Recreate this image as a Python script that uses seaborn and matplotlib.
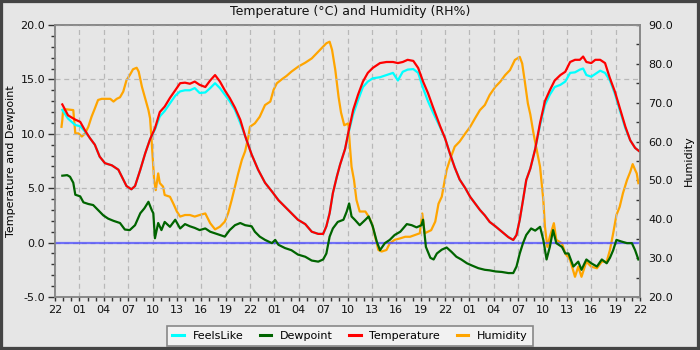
import matplotlib
matplotlib.use("Agg")
import matplotlib.pyplot as plt
import matplotlib.patches as mpatches
from matplotlib.ticker import MultipleLocator, FixedLocator, FixedFormatter
import seaborn as sns
import pandas as pd

# ---------------- data (hours since 22:00 of first day) ----------------
temp_hours = [0.9, 1.6, 2.5, 3.1, 3.7, 4.3, 4.9, 5.5, 6.15, 7.0, 7.8, 8.2, 8.8, 9.4, 9.85,
              10.5, 11.1, 11.7, 12.3, 12.9, 13.5, 14.15, 14.8, 15.4, 16.0, 16.6, 17.2, 17.8,
              18.5, 19.1, 19.7, 20.3, 20.9, 21.5, 22.15, 22.8, 23.4, 24.2, 25.0, 25.85, 26.7,
              27.5, 28.3, 29.1, 29.9, 30.8, 31.6, 32.4, 33.0, 33.4, 33.8, 34.2, 34.7, 35.1,
              35.7, 36.1, 36.7, 37.3, 37.9, 38.5, 39.1, 40.0, 40.8, 41.6, 42.2, 42.8, 43.4,
              44.1, 44.7, 45.3, 45.9, 46.5, 47.4, 48.0, 48.6, 49.2, 49.8, 50.5, 51.1, 51.7,
              52.3, 52.9, 53.5, 54.2, 55.0, 55.8, 56.4, 56.8, 57.2, 57.6, 58.0, 58.5, 59.1,
              59.7, 60.3, 60.9, 61.5, 62.2, 62.8, 63.4, 64.0, 64.6, 65.0, 65.4, 66.0, 66.5,
              67.1, 67.7, 68.3, 68.9, 69.5, 70.2, 70.8, 71.4, 71.9]
temperature = [12.7, 11.7, 11.3, 11.1, 10.3, 9.6, 9.0, 7.9, 7.3, 7.1, 6.7, 6.1, 5.2, 4.9, 5.2,
               6.7, 8.2, 9.5, 10.5, 12.0, 12.5, 13.3, 14.0, 14.65, 14.7, 14.6, 14.8, 14.5,
               14.3, 14.9, 15.4, 14.8, 14.0, 13.3, 12.4, 11.3, 9.8, 8.1, 6.7, 5.5, 4.7,
               3.9, 3.3, 2.7, 2.1, 1.7, 1.0, 0.8, 0.8, 1.5, 2.7, 4.55, 6.1, 7.2,
               8.6, 10.1, 12.2, 13.6, 14.8, 15.6, 16.05, 16.5, 16.6, 16.6, 16.5, 16.6, 16.8,
               16.7, 16.05, 14.8, 13.75, 12.5, 10.7, 9.6, 8.2, 6.9, 5.8, 5.0, 4.2, 3.6,
               3.0, 2.5, 1.9, 1.5, 1.0, 0.5, 0.24, 0.7, 2.1, 3.9, 5.75, 6.8, 8.6,
               11.0, 13.0, 14.0, 14.9, 15.4, 15.7, 16.6, 16.8, 16.8, 17.1, 16.6, 16.5, 16.8,
               16.8, 16.5, 15.1, 13.9, 12.4, 10.65, 9.4, 8.7, 8.4]
feels_like = [12.2, 11.4, 10.8, 10.7, 10.2, 9.6, 9.0, 7.9, 7.3, 7.1, 6.7, 6.1, 5.2, 4.9, 5.2,
              6.7, 8.2, 9.5, 10.4, 11.6, 12.1, 12.8, 13.5, 13.9, 14.0, 14.0, 14.2, 13.75,
              13.8, 14.2, 14.65, 14.2, 13.6, 13.0, 12.2, 11.0, 9.8, 8.1, 6.7, 5.5, 4.7,
              3.9, 3.3, 2.7, 2.1, 1.7, 1.0, 0.8, 0.8, 1.5, 2.7, 4.55, 6.1, 7.2,
              8.6, 10.0, 11.8, 13.1, 14.3, 14.8, 15.1, 15.2, 15.4, 15.6, 14.9, 15.7, 15.9,
              15.95, 15.6, 14.2, 13.0, 12.0, 10.6, 9.6, 8.2, 6.9, 5.8, 5.0, 4.2, 3.6,
              3.0, 2.5, 1.9, 1.5, 1.0, 0.5, 0.24, 0.7, 2.1, 3.9, 5.75, 6.8, 8.6,
              10.8, 12.65, 13.6, 14.3, 14.5, 14.8, 15.6, 15.65, 15.9, 16.0, 15.4, 15.25, 15.5,
              15.8, 15.6, 14.9, 13.7, 12.2, 10.5, 9.4, 8.7, 8.4]

dew_hours = [0.9, 1.5, 1.85, 2.25, 2.5, 3.1, 3.5, 4.1, 4.7, 5.3, 5.95, 6.55, 7.2, 8.0, 8.6,
             9.2, 9.85, 10.5, 11.0, 11.5, 11.9, 12.1, 12.3, 12.7, 13.1, 13.5, 14.15, 14.8,
             15.4, 16.0, 16.6, 17.2, 17.8, 18.5, 19.1, 19.7, 20.3, 20.9, 21.5, 22.15, 22.8,
             23.4, 24.2, 24.6, 25.2, 25.85, 26.7, 27.1, 27.5, 28.3, 29.1, 29.9, 30.8, 31.6,
             32.4, 33.0, 33.4, 33.8, 34.2, 34.8, 35.5, 35.9, 36.2, 36.5, 36.9, 37.5, 38.2,
             38.6, 39.1, 39.6, 40.0, 40.6, 41.2, 41.8, 42.5, 43.3, 43.9, 44.5, 45.1, 45.3,
             45.65, 46.2, 46.6, 47.0, 47.6, 48.2, 48.8, 49.4, 50.0, 50.7, 51.3, 52.1, 52.9,
             53.5, 54.2, 55.0, 55.8, 56.4, 56.8, 57.2, 57.6, 58.0, 58.6, 59.1, 59.7, 60.1,
             60.5, 60.9, 61.3, 61.7, 62.4, 62.8, 63.2, 63.8, 64.4, 64.8, 65.4, 66.0, 66.7,
             67.3, 67.9, 68.3, 68.7, 69.1, 69.7, 70.4, 71.0, 71.4, 71.8]
dewpoint = [6.15, 6.2, 6.05, 5.5, 4.4, 4.25, 3.7, 3.55, 3.45, 3.0, 2.5, 2.2, 2.0, 1.8, 1.2,
            1.15, 1.6, 2.7, 3.15, 3.75, 3.0, 2.7, 0.4, 1.8, 1.15, 1.9, 1.45, 2.1,
            1.3, 1.7, 1.5, 1.35, 1.15, 1.3, 1.0, 0.85, 0.7, 0.55, 1.15, 1.6, 1.8,
            1.6, 1.5, 1.0, 0.55, 0.25, -0.05, 0.25, -0.2, -0.5, -0.7, -1.1, -1.3, -1.65,
            -1.75, -1.55, -1.0, 0.55, 1.3, 1.9, 2.1, 2.85, 3.6, 2.4, 2.1, 1.6, 2.1,
            2.4, 1.5, 0.1, -0.7, -0.05, 0.25, 0.7, 1.0, 1.7, 1.6, 1.4, 1.6, 2.1,
            -0.4, -1.4, -1.55, -1.0, -0.65, -0.45, -0.85, -1.3, -1.55, -1.9, -2.1, -2.35, -2.5,
            -2.55, -2.65, -2.7, -2.8, -2.8, -2.2, -1.0, -0.05, 0.7, 1.3, 1.1, 1.45, 0.25,
            -1.55, -0.4, 1.15, -0.05, -0.4, -1.0, -1.0, -2.2, -1.75, -2.5, -1.55, -1.9, -2.2,
            -1.55, -1.9, -1.4, -0.7, 0.25, 0.1, -0.05, -0.05, -0.7, -1.55]

hum_hours = [0.8, 0.9, 1.0, 1.4, 2.25, 2.5, 2.9, 3.3, 3.7, 4.1, 4.5, 4.9, 5.3, 5.75, 6.8,
             7.2, 7.6, 8.0, 8.4, 8.8, 9.2, 9.6, 10.05, 10.3, 10.7, 11.1, 11.5, 11.7, 11.9,
             12.2, 12.4, 12.7, 12.9, 13.3, 13.5, 14.15, 14.55, 15.0, 15.4, 16.0, 16.6, 17.2,
             17.8, 18.5, 19.1, 19.7, 20.3, 20.9, 21.3, 21.75, 22.15, 22.55, 23.0, 23.4, 23.8,
             24.0, 24.6, 25.2, 25.85, 26.5, 26.9, 27.3, 27.9, 28.5, 29.1, 29.95, 30.8, 31.6,
             32.2, 32.8, 33.4, 33.8, 34.1, 34.5, 34.9, 35.2, 35.6, 36.1, 36.3, 36.5, 36.8,
             37.1, 37.5, 38.2, 38.6, 39.0, 39.4, 39.8, 40.2, 40.8, 41.2, 41.8, 42.5, 43.1,
             43.7, 44.3, 44.9, 45.2, 45.5, 45.9, 46.3, 46.8, 47.2, 47.6, 48.2, 48.6, 49.2,
             49.8, 50.5, 51.1, 51.7, 52.3, 52.9, 53.5, 54.2, 54.8, 55.4, 56.0, 56.6, 57.2,
             57.5, 57.8, 58.2, 58.5, 58.9, 59.3, 59.7, 60.1, 60.3, 60.6, 60.9, 61.4, 61.7,
             62.4, 62.8, 63.4, 64.0, 64.4, 64.8, 65.4, 66.0, 66.7, 67.3, 67.9, 68.3, 68.7,
             69.1, 69.5, 69.9, 70.4, 70.8, 71.1, 71.4, 71.6, 71.8]
humidity = [63.8, 65.5, 68.1, 68.3, 68.1, 62.1, 62.1, 61.3, 62.1, 63.8, 66.4, 68.5, 70.7, 71.0, 71.0,
            70.3, 71.0, 71.4, 72.85, 75.8, 77.1, 78.6, 79.0, 78.0, 74.1, 71.1, 68.1, 66.0, 60.0,
            50.1, 47.5, 51.8, 49.3, 48.4, 46.25, 45.8, 44.1, 42.0, 40.7, 41.1, 41.1, 40.7,
            41.1, 41.5, 39.0, 37.4, 38.1, 39.4, 41.5, 45.0, 48.4, 51.8, 55.3, 57.5, 61.25,
            63.8, 64.7, 66.4, 69.4, 70.3, 73.3, 75.0, 76.0, 76.9, 78.0, 79.3, 80.3, 81.4,
            82.7, 84.0, 85.3, 85.7, 83.6, 78.4, 71.5, 67.5, 64.2, 64.7, 58.7, 53.5, 50.1,
            45.0, 42.0, 42.0, 40.7, 39.0, 35.5, 32.1, 31.7, 32.1, 33.8, 34.7, 35.1, 35.5,
            35.5, 35.95, 36.4, 41.5, 36.4, 36.8, 37.2, 39.4, 44.0, 45.8, 52.7, 55.3, 58.7,
            60.0, 62.1, 63.8, 66.0, 68.1, 69.4, 72.0, 74.1, 75.4, 77.1, 78.4, 81.0, 81.8,
            80.1, 75.8, 69.8, 67.0, 62.0, 57.8, 53.5, 45.0, 38.1, 32.9, 35.5, 39.0, 34.7,
            33.8, 31.2, 29.5, 25.2, 27.8, 25.2, 29.1, 27.8, 27.4, 29.1, 29.1, 32.1, 36.4,
            41.1, 43.2, 46.7, 50.1, 52.2, 54.2, 52.7, 51.8, 49.3]

tick_hours = list(range(0, 73, 3))
tick_labels = ["22", "01", "04", "07", "10", "13", "16", "19"] * 3 + ["22"]
zero_line = 0.0

# ---------------- styling ----------------
BG = "#e6e6e6"
plt.rcParams["font.family"] = ["DejaVu Sans"]
plt.rcParams["font.size"] = 8

fig = plt.figure(figsize=(7, 3.5), dpi=100, facecolor=BG)
ax = fig.add_axes([55 / 700, 1 - 297 / 350, 585 / 700, 272 / 350])
ax2 = ax.twinx()
ax.set_zorder(ax2.get_zorder() + 1)
ax.patch.set_visible(False)
ax2.patch.set_facecolor(BG)

df_t = pd.DataFrame({"h": temp_hours, "Temperature": temperature, "FeelsLike": feels_like})
df_d = pd.DataFrame({"h": dew_hours, "Dewpoint": dewpoint})
df_h = pd.DataFrame({"h": hum_hours, "Humidity": humidity})

LW = 1.6
sns.lineplot(data=df_t, x="h", y="FeelsLike", ax=ax, color="#00ffff", lw=LW, label="FeelsLike")
sns.lineplot(data=df_d, x="h", y="Dewpoint", ax=ax, color="#006400", lw=LW, label="Dewpoint")
sns.lineplot(data=df_t, x="h", y="Temperature", ax=ax, color="#ff0000", lw=LW, label="Temperature")
sns.lineplot(data=df_h, x="h", y="Humidity", ax=ax2, color="#ffa500", lw=LW, label="Humidity")
ax.axhline(zero_line, color="#4a4aff", alpha=0.75, lw=1.6, zorder=1.9)

for a in (ax, ax2):
    if a.get_legend() is not None:
        a.get_legend().remove()

ax.set_xlim(0, 72)
ax.set_ylim(-5, 20)
ax2.set_ylim(20, 90)

ax.xaxis.set_major_locator(FixedLocator(tick_hours))
ax.xaxis.set_major_formatter(FixedFormatter(tick_labels))
ax.xaxis.set_minor_locator(MultipleLocator(1))
ax.yaxis.set_major_locator(MultipleLocator(5))
ax.yaxis.set_minor_locator(MultipleLocator(1))
ax.yaxis.set_major_formatter(matplotlib.ticker.FormatStrFormatter("%.1f"))
ax2.yaxis.set_major_locator(MultipleLocator(10))
ax2.yaxis.set_minor_locator(MultipleLocator(5))
ax2.yaxis.set_major_formatter(matplotlib.ticker.FormatStrFormatter("%.1f"))

ax.tick_params(axis="x", which="both", direction="out", length=3, width=1,
               color="#333333", labelsize=8, pad=3, labelcolor="#111111")
ax.tick_params(axis="y", which="major", direction="out", length=5, width=1,
               color="#333333", labelsize=8, pad=2, labelcolor="#111111")
ax.tick_params(axis="y", which="minor", direction="out", length=3, width=1, color="#333333")
ax2.tick_params(axis="y", which="both", direction="in", length=3, width=1,
                color="#333333", labelsize=8, pad=6, labelcolor="#111111")

ax.grid(True, which="major", axis="both", color="#b8b8b8", linestyle=(0, (4, 3)), lw=0.9)
ax2.grid(False)

for a in (ax, ax2):
    for s in a.spines.values():
        s.set_color("#888888")
        s.set_linewidth(1.2)

ax.set_xlabel("")
ax.set_ylabel("Temperature and Dewpoint", fontsize=8)
ax2.set_ylabel("Humidity", fontsize=8)
ax.yaxis.set_label_coords((16 - 55) / 585, 0.5)
ax2.yaxis.set_label_coords((684 - 55) / 585, 0.5)

fig.text(0.5, 1 - 12 / 350, "Temperature (°C) and Humidity (RH%)", ha="center", va="center",
         fontsize=9, color="#111111")

h1, l1 = ax.get_legend_handles_labels()
h2, l2 = ax2.get_legend_handles_labels()
order = ["FeelsLike", "Dewpoint", "Temperature", "Humidity"]
hmap = dict(zip(l1 + l2, h1 + h2))
leg = fig.legend([hmap[k] for k in order], order, loc="center",
                 bbox_to_anchor=(0.5, 1 - 336 / 350), ncol=4, frameon=True, fancybox=False,
                 fontsize=8, handlelength=1.0, handletextpad=0.8, columnspacing=1.5,
                 borderpad=0.45, borderaxespad=0)
leg.get_frame().set_facecolor("#f2f2f2")
leg.get_frame().set_edgecolor("#888888")
leg.get_frame().set_linewidth(1.2)
leg.get_frame().set_alpha(1)
for line in leg.get_lines():
    line.set_linewidth(2.2)

fig.patches.append(mpatches.Rectangle((0, 0), 1, 1, transform=fig.transFigure, fill=False,
                                      edgecolor="#444444", lw=4.5, zorder=10))

fig.savefig("out.png", dpi=100, facecolor=BG)
